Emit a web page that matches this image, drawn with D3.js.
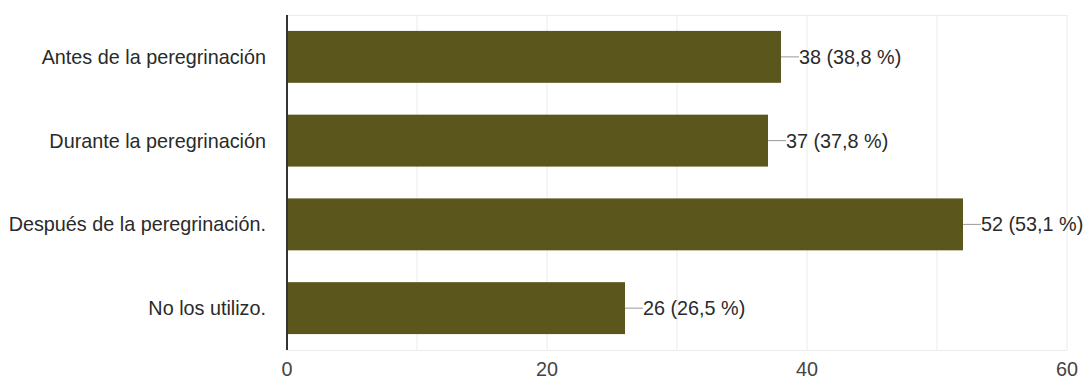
<!DOCTYPE html>
<html>
<head>
<meta charset="utf-8">
<script src="https://cdn.jsdelivr.net/npm/d3@7"></script>
<style>
  body { margin: 0; background: #fff; }
  text { font-family: "Liberation Sans", Arial, sans-serif; }
</style>
</head>
<body>
<svg id="chart" width="1087" height="379"></svg>
<script>
const categories = [
  "Antes de la peregrinación",
  "Durante la peregrinación",
  "Después de la peregrinación.",
  "No los utilizo."
];
const counts = [38, 37, 52, 26];
const percents = ["38,8 %", "37,8 %", "53,1 %", "26,5 %"];
const xTicks = [0, 20, 40, 60];

const margin = { top: 15, right: 20, bottom: 29, left: 287 };
const width = 1087 - margin.left - margin.right;
const height = 379 - margin.top - margin.bottom;

const svg = d3.select("#chart")
  .append("g")
  .attr("transform", `translate(${margin.left},${margin.top})`);

const x = d3.scaleLinear().domain([0, 60]).range([0, width]);
const y = d3.scaleBand().domain(categories).range([0, height]).paddingInner(0.38).paddingOuter(0.19);

// grid
svg.append("g")
  .selectAll("line")
  .data(d3.range(10, 61, 10))
  .join("line")
  .attr("x1", d => x(d)).attr("x2", d => x(d))
  .attr("y1", 0).attr("y2", height)
  .attr("stroke", "#ebebeb").attr("stroke-width", 1);

svg.append("line")
  .attr("x1", 0).attr("x2", width).attr("y1", 0.5).attr("y2", 0.5)
  .attr("stroke", "#ebebeb");
svg.append("line")
  .attr("x1", 0).attr("x2", width).attr("y1", height + 0.5).attr("y2", height + 0.5)
  .attr("stroke", "#ebebeb");

// bars
const data = categories.map((c, i) => ({ cat: c, v: counts[i], p: percents[i] }));

svg.selectAll("rect.bar")
  .data(data)
  .join("rect")
  .attr("class", "bar")
  .attr("x", 0)
  .attr("y", d => y(d.cat))
  .attr("width", d => x(d.v))
  .attr("height", y.bandwidth())
  .attr("fill", "#5b561c");

// leader lines + labels
svg.selectAll("line.lead")
  .data(data)
  .join("line")
  .attr("class", "lead")
  .attr("x1", d => x(d.v)).attr("x2", d => x(d.v) + 18)
  .attr("y1", d => y(d.cat) + y.bandwidth() / 2)
  .attr("y2", d => y(d.cat) + y.bandwidth() / 2)
  .attr("stroke", "#999").attr("stroke-width", 1);

svg.selectAll("text.val")
  .data(data)
  .join("text")
  .attr("class", "val")
  .attr("x", d => x(d.v) + 18)
  .attr("y", d => y(d.cat) + y.bandwidth() / 2)
  .attr("dy", "0.35em")
  .attr("font-size", 19.8)
  .attr("fill", "#2a2a2a")
  .text(d => `${d.v} (${d.p})`);

// category labels
svg.selectAll("text.cat")
  .data(categories)
  .join("text")
  .attr("class", "cat")
  .attr("x", -21)
  .attr("y", d => y(d) + y.bandwidth() / 2)
  .attr("dy", "0.35em")
  .attr("text-anchor", "end")
  .attr("font-size", 19.8)
  .attr("fill", "#2a2a2a")
  .text(d => d);

// x tick labels
svg.selectAll("text.tick")
  .data(xTicks)
  .join("text")
  .attr("class", "tick")
  .attr("x", d => x(d))
  .attr("y", height + 26)
  .attr("text-anchor", "middle")
  .attr("font-size", 19.8)
  .attr("fill", "#444")
  .text(d => d);

// baseline axis
svg.append("line")
  .attr("x1", 0).attr("x2", 0).attr("y1", 0).attr("y2", height)
  .attr("stroke", "#333").attr("stroke-width", 2);
</script>
</body>
</html>
